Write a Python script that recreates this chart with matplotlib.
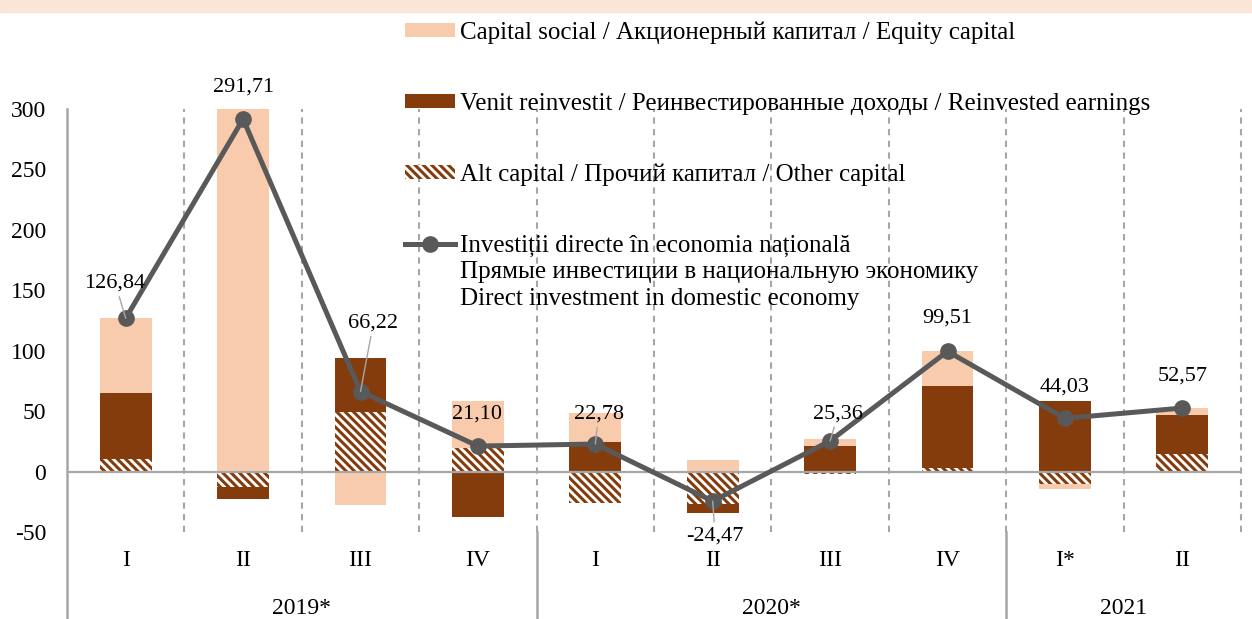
import matplotlib.pyplot as plt
import matplotlib.transforms as mtransforms
from matplotlib.patches import Rectangle
from matplotlib.lines import Line2D
import numpy as np

plt.rcParams['font.family'] = ['Liberation Serif', 'DejaVu Serif']
plt.rcParams['hatch.linewidth'] = 2.2
plt.rcParams['axes.unicode_minus'] = False

# data (million USD)
quarters = ['I', 'II', 'III', 'IV', 'I', 'II', 'III', 'IV', 'I*', 'II']
years = ['2019*', '2020*', '2021']
year_span = [(0, 3), (4, 7), (8, 9)]
other = [10.5, -12.4, 49.4, 19.4, -26.2, -26.5, -1.6, 2.8, -10.4, 14.6]
reinvested = [54.4, -10.4, 44.5, -37.7, 24.3, -7.9, 21.5, 68.2, 58.5, 32.3]
equity = [61.9, 314.5, -27.7, 39.4, 24.5, 9.9, 5.4, 28.5, -4.1, 5.7]
total = [126.84, 291.71, 66.22, 21.10, 22.78, -24.47, 25.36, 99.51, 44.03, 52.57]
total_labels = ['126,84', '291,71', '66,22', '21,10', '22,78',
                '-24,47', '25,36', '99,51', '44,03', '52,57']
# label positions (x, y in data units) and whether a leader line is drawn
label_pos = [(-0.09, 156), (1.0, 318), (2.11, 123), (2.99, 48), (4.03, 48),
             (5.02, -53), (6.07, 48), (7.0, 127), (8.0, 70), (9.0, 79)]
leader = [True, False, True, False, True, True, True, False, False, False]

c_equity = '#F8CBAD'
c_reinv = '#843C0C'
c_line = '#595959'
c_grid = '#A6A6A6'
hatch = '\\\\\\\\'

fig = plt.figure(figsize=(12.52, 6.19), dpi=100)
fig.patches.append(Rectangle((0, 1 - 12 / 619), 1, 12 / 619, transform=fig.transFigure,
                             color='#FBE5D6', zorder=0))
ax = fig.add_axes([67 / 1252, 87 / 619, 1174 / 1252, 423 / 619])

x = np.arange(len(quarters))
width = 0.44
pos_base = np.zeros(len(x))
neg_base = np.zeros(len(x))
series = [(other, dict(color='white', edgecolor=c_reinv, hatch=hatch, linewidth=0)),
          (reinvested, dict(color=c_reinv, linewidth=0)),
          (equity, dict(color=c_equity, linewidth=0))]
for vals, style in series:
    vals = np.array(vals)
    bottom = np.where(vals >= 0, pos_base, neg_base)
    ax.bar(x, vals, width, bottom=bottom, zorder=2, **style)
    pos_base = pos_base + np.clip(vals, 0, None)
    neg_base = neg_base + np.clip(vals, None, 0)

ax.plot(x, total, color=c_line, lw=3.6, marker='o', ms=11, zorder=4)

for i, (lx, ly) in enumerate(label_pos):
    if leader[i]:
        ax.annotate(total_labels[i], xy=(x[i], total[i]), xytext=(lx, ly),
                    ha='center', va='center', fontsize=16, zorder=5,
                    arrowprops=dict(arrowstyle='-', color=c_grid, lw=1, shrinkA=1, shrinkB=0))
    else:
        ax.text(lx, ly, total_labels[i], ha='center', va='center', fontsize=16,
                zorder=5, clip_on=False)

ax.set_xlim(-0.5, 9.5)
ax.set_ylim(-50, 300)
ax.set_yticks(np.arange(-50, 301, 50))
ax.set_xticks(x, quarters)
ax.tick_params(axis='both', length=0, labelsize=17)
ax.tick_params(axis='y', pad=15)
ax.tick_params(axis='x', pad=13)
for s in ax.spines.values():
    s.set_visible(False)

ax.axhline(0, color=c_grid, lw=1.6, zorder=3)
for b in np.arange(0.5, 10, 1.0):
    ax.axvline(b, color=c_grid, lw=1.5, dashes=(3, 2.6), zorder=1, clip_on=False)
ax.axvline(-0.5, ymin=-0.206, ymax=1, color=c_grid, lw=1.8, clip_on=False)
for b in [3.5, 7.5]:
    ax.axvline(b, ymin=-0.206, ymax=0, color=c_grid, lw=1.8, clip_on=False)

trans = mtransforms.blended_transform_factory(ax.transData, ax.transAxes)
for name, (a, b) in zip(years, year_span):
    ax.text((a + b) / 2, -0.18, name, transform=trans, ha='center', va='center',
            fontsize=17)

handles = [Rectangle((0, 0), 1, 1, color=c_equity, lw=0),
           Rectangle((0, 0), 1, 1, color=c_reinv, lw=0),
           Rectangle((0, 0), 1, 1, facecolor='white', edgecolor=c_reinv, hatch=hatch, lw=0),
           Line2D([], [], color=c_line, lw=3.6, marker='o', ms=11)]
labels = ['Capital social / Акционерный капитал / Equity capital',
          'Venit reinvestit / Реинвестированные доходы / Reinvested earnings',
          'Alt capital / Прочий капитал / Other capital',
          'Investiții directe în economia națională']
leg = fig.legend(handles, labels, loc='upper left', bbox_to_anchor=(392 / 1252, 1 - 9 / 619),
                 frameon=False, fontsize=18, borderpad=0, handlelength=2.0,
                 handleheight=0.5, handletextpad=0.22, labelspacing=1.95)

# the last legend entry continues on two more lines under its first line
fig.canvas.draw()
bb = leg.get_texts()[-1].get_window_extent()
fig.text(bb.x0 / 1252, (bb.y0 - 4) / 619,
         'Прямые инвестиции в национальную экономику\nDirect investment in domestic economy',
         ha='left', va='top', fontsize=18, linespacing=1.3)

fig.savefig('out.png', dpi=100)
